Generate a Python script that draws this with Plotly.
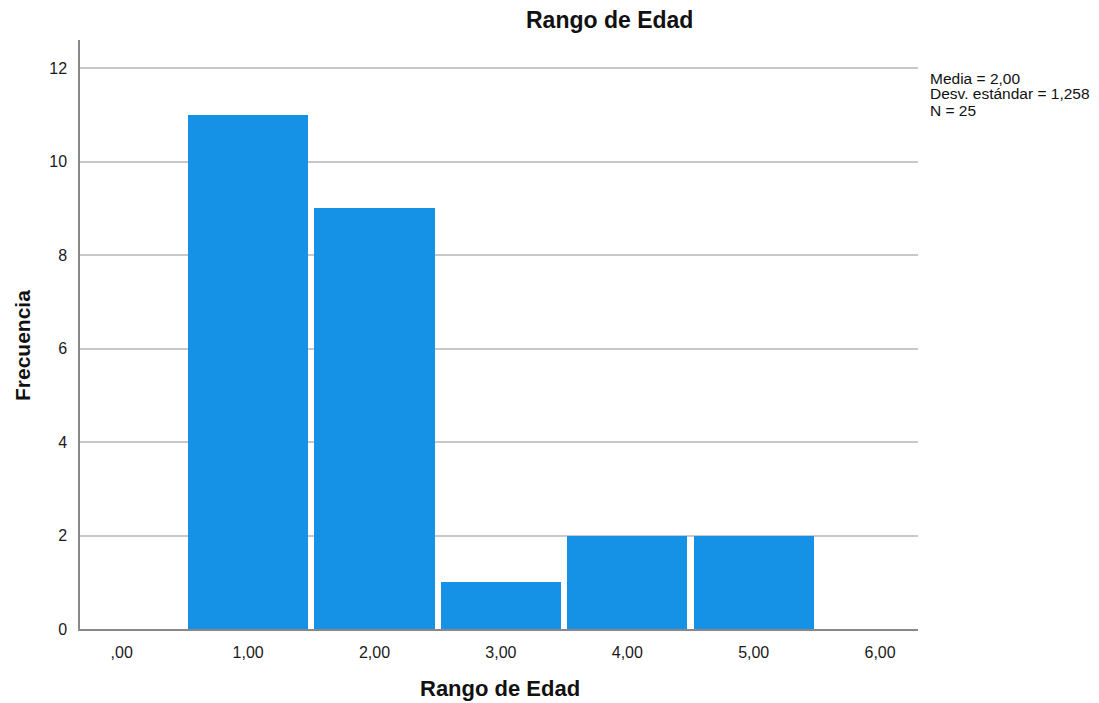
import plotly.graph_objects as go

categories = [1, 2, 3, 4, 5]
frecuencia = [11, 9, 1, 2, 2]
x_ticks = [0, 1, 2, 3, 4, 5, 6]
x_tick_labels = [",00", "1,00", "2,00", "3,00", "4,00", "5,00", "6,00"]
y_ticks = [0, 2, 4, 6, 8, 10, 12]
stats_lines = ["Media = 2,00", "Desv. estándar = 1,258", "N = 25"]

FONT = "Liberation Sans, Arial, sans-serif"

fig = go.Figure()
fig.add_trace(go.Bar(
    x=categories, y=frecuencia, width=0.95,
    marker=dict(color="#1591E6", line=dict(width=0)),
    showlegend=False,
))

OFF = 8  # page body margin
W, H = 1099 - OFF, 703 - OFF
L, T = 80 - OFF, 40 - OFF
R = W - (918 - OFF)
B = H - (629 - OFF)
PW, PH = W - L - R, H - T - B

fig.update_layout(
    width=W, height=H,
    margin=dict(l=L, r=R, t=T, b=B),
    paper_bgcolor="white", plot_bgcolor="white",
    font=dict(family=FONT, size=15, color="#1a1a1a"),
    bargap=0,
    xaxis=dict(
        range=[-0.33, 6.3], tickmode="array", tickvals=x_ticks, ticktext=x_tick_labels,
        showgrid=False, zeroline=False, showline=True, linecolor="#888", linewidth=1.5,
        ticks="", tickfont=dict(size=16, color="#1a1a1a"), ticklabelstandoff=8,
    ),
    yaxis=dict(
        range=[0, 12.6], tickmode="array", tickvals=y_ticks,
        showgrid=True, gridcolor="#C8C8C8", gridwidth=1.5, zeroline=False,
        showline=True, linecolor="#888", linewidth=1.5,
        ticks="", tickfont=dict(size=16, color="#1a1a1a"), ticklabelstandoff=8,
    ),
)

def px_x(x):
    return (x - OFF - L) / PW

def px_y(y):
    return (H - B - (y - OFF)) / PH

fig.add_annotation(text="<b>Rango de Edad</b>", xref="paper", yref="paper",
                   x=px_x(609), y=px_y(20), showarrow=False,
                   font=dict(size=23, family=FONT, color="#111"), yanchor="middle")
fig.add_annotation(text="<b>Rango de Edad</b>", xref="paper", yref="paper",
                   x=px_x(500), y=px_y(688), showarrow=False,
                   font=dict(size=22, family=FONT, color="#111"), yanchor="middle")
fig.add_annotation(text="<b>Frecuencia</b>", xref="paper", yref="paper",
                   x=px_x(22), y=px_y(346), showarrow=False,
                   textangle=-90, font=dict(size=21, family=FONT, color="#111"),
                   xanchor="center", yanchor="middle")
for i, line in enumerate(stats_lines):
    fig.add_annotation(text=line, xref="paper", yref="paper",
                       x=px_x(928), y=px_y(78 + 16 * i),
                       showarrow=False, align="left", xanchor="left", yanchor="middle",
                       font=dict(size=15.5, family=FONT, color="#111"))

fig.write_html("out.html")
